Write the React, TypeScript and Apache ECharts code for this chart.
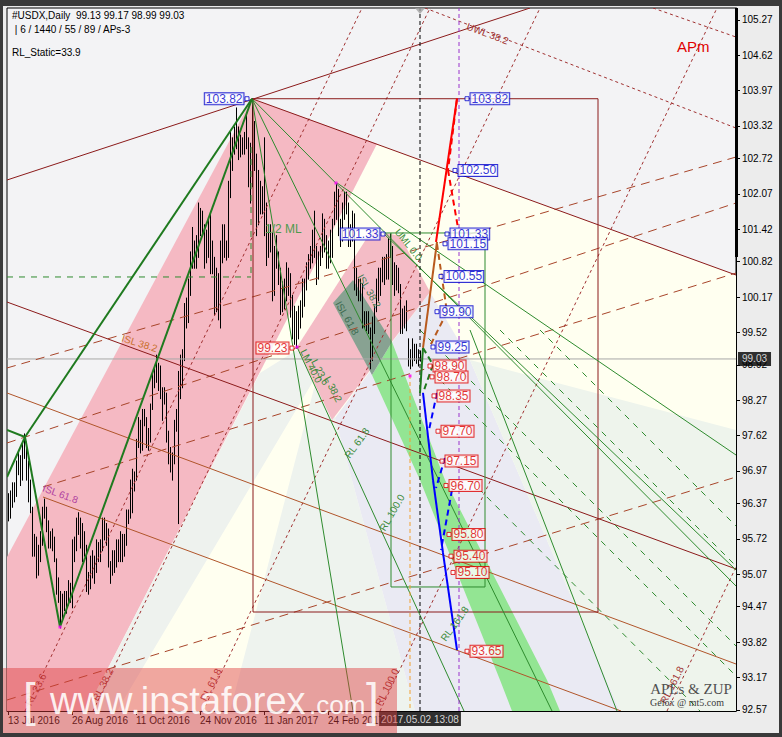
import React, { useEffect, useRef } from 'react';
import * as echarts from 'echarts';

const FONT = '"Liberation Sans", Arial, sans-serif';
const SERIF = '"Liberation Serif", "DejaVu Serif", serif';

// ---- axes ----
const X_TICKS = [0, 32, 64, 96, 128, 160];
const X_TICK_LABELS = ['13 Jul 2016', '26 Aug 2016', '11 Oct 2016', '24 Nov 2016', '11 Jan 2017', '24 Feb 2017'];
const Y_TICKS = [105.27, 104.62, 103.97, 103.32, 102.72, 102.07, 101.42, 100.82, 100.17, 99.52, 98.92, 98.27, 97.62, 96.97, 96.37, 95.72, 95.07, 94.47, 93.82, 93.17, 92.57];
const X_MIN = -0.5, X_MAX = 364, Y_MIN = 92.55, Y_MAX = 105.49;
const LAST_PRICE = 99.03;
const LAST_BAR = 206;
const CURSOR_TIME = '2017.05.02 13:08';

// ---- daily bars (bar index 0 = 13 Jul 2016), low / high ----
const LOWS = [
  96.05, 96.10, 96.30, 96.40, 96.50, 96.90, 96.70, 96.80, 97.20, 96.80,
  96.40, 96.20, 95.40, 95.40, 95.00, 95.05, 95.30, 95.60, 96.10, 95.85,
  95.55, 95.55, 95.50, 95.30, 94.70, 94.55, 94.08, 94.25, 94.40, 94.35,
  94.50, 94.55, 94.45, 95.30, 95.50, 95.80, 95.55, 95.30, 95.40, 94.75,
  94.70, 94.80, 95.00, 94.90, 95.10, 95.30, 95.30, 95.50, 95.70, 95.60,
  95.20, 94.90, 95.05, 95.10, 95.20, 95.30, 95.30, 95.30, 95.40, 95.60,
  96.00, 96.10, 96.20, 96.60, 96.80, 97.40, 97.30, 97.35, 97.80, 97.40,
  97.35, 97.50, 98.10, 98.50, 98.60, 98.45, 98.30, 97.90, 98.20, 97.50,
  97.10, 96.95, 96.80, 97.10, 97.70, 96.00, 98.30, 98.50, 99.00, 99.60,
  99.70, 100.20, 100.70, 100.70, 100.70, 100.90, 101.30, 101.30, 100.70, 100.80,
  100.90, 100.60, 100.60, 99.85, 99.90, 99.75, 99.60, 100.80, 100.90, 100.85,
  100.90, 102.00, 102.50, 102.80, 102.90, 102.70, 102.75, 102.80, 102.80, 102.90,
  102.20, 101.90, 102.20, 102.50, 101.30, 101.50, 101.70, 101.70, 101.30, 100.75,
  100.90, 101.00, 100.10, 100.20, 100.70, 100.40, 99.85, 99.90, 99.95, 100.10,
  100.20, 99.80, 99.40, 99.30, 99.23, 99.40, 99.60, 99.80, 100.00, 100.30,
  100.50, 100.70, 100.80, 100.90, 100.40, 100.50, 100.75, 100.90, 101.00, 100.70,
  100.70, 100.80, 100.90, 101.50, 101.60, 101.30, 101.10, 101.20, 101.60, 101.70,
  101.10, 101.10, 101.20, 100.30, 100.20, 100.10, 100.10, 99.60, 99.60, 99.55,
  99.50, 98.85, 99.00, 99.50, 99.90, 100.10, 100.20, 100.45, 100.40, 100.50,
  100.50, 100.90, 100.40, 100.20, 100.30, 100.25, 99.50, 99.50, 99.60, 99.55,
  98.90, 98.85, 98.90, 99.00, 98.95, 98.90, 98.99,
];
const HIGHS = [
  96.55, 96.60, 96.75, 96.75, 97.15, 97.30, 97.25, 97.50, 97.65, 97.50,
  97.15, 96.80, 96.30, 95.80, 95.75, 95.60, 95.85, 96.30, 96.45, 96.30,
  96.05, 95.85, 95.90, 95.75, 95.35, 95.00, 94.75, 94.70, 94.75, 94.75,
  94.95, 94.90, 95.70, 95.75, 96.10, 96.20, 96.10, 96.00, 95.85, 95.60,
  95.10, 95.40, 95.50, 95.40, 95.70, 95.65, 95.70, 96.10, 96.10, 96.00,
  95.90, 95.30, 95.50, 95.50, 95.70, 95.70, 95.85, 95.80, 95.80, 96.25,
  96.25, 96.80, 97.00, 96.95, 97.55, 97.95, 97.90, 98.10, 98.10, 97.95,
  97.75, 98.20, 98.75, 98.85, 99.10, 98.95, 98.90, 98.50, 98.50, 98.40,
  97.70, 97.40, 97.30, 97.90, 98.10, 98.80, 99.10, 99.20, 100.05, 100.15,
  100.50, 101.00, 101.45, 101.20, 101.30, 101.90, 101.80, 101.75, 101.50, 101.40,
  101.60, 101.70, 101.20, 100.90, 100.70, 100.60, 101.20, 101.50, 101.50, 101.20,
  102.30, 103.20, 103.10, 103.30, 103.65, 103.30, 103.15, 103.10, 103.20, 103.55,
  103.10, 103.00, 103.82, 103.40, 102.80, 102.50, 102.30, 102.20, 103.10, 101.90,
  101.50, 101.50, 101.35, 101.10, 101.30, 101.00, 100.70, 100.45, 100.50, 100.80,
  100.70, 100.60, 100.20, 100.00, 99.90, 100.00, 100.10, 100.50, 100.50, 100.80,
  100.95, 101.10, 101.40, 101.75, 101.10, 101.00, 101.10, 101.70, 101.60, 101.30,
  101.20, 101.40, 101.60, 102.10, 102.26, 102.15, 101.60, 101.90, 102.10, 102.10,
  101.90, 101.50, 101.75, 101.70, 100.70, 100.50, 100.50, 100.40, 99.90, 99.90,
  99.90, 99.60, 99.80, 100.00, 100.50, 100.70, 100.70, 100.90, 100.90, 100.95,
  101.25, 101.33, 101.10, 100.80, 100.75, 100.70, 100.40, 99.95, 100.00, 100.10,
  99.40, 99.20, 99.40, 99.30, 99.30, 99.20, 99.17,
];

// ---- shaded zones (bar index, price) ----
const ZONE_CREAM = [[39, 92.55], [184.5, 102.99], [364, 100.575], [364, 92.55]];
const ZONE_PINK_BAND = [[-0.5, 95.385], [122, 103.82], [184.5, 102.99], [39, 92.55], [-0.5, 92.55]];
const ZONE_STRIP = [[39, 92.55], [126, 98.77], [144.5, 99.195], [155, 98.77], [54.5, 92.55]];
const ZONE_LOW_GREEN = [[155, 98.77], [163.5, 97.943], [203.5, 92.55], [111, 92.55]];
const ZONE_LAVENDER = [[163.5, 97.943], [211, 100.262], [231, 99.011], [306, 92.55], [203.5, 92.55]];
const ZONE_RIGHT_GREEN = [[231, 99.011], [364, 97.723], [364, 92.55], [306, 92.55]];
const ZONE_PINK_2 = [[144.5, 99.25], [182, 101.404], [196, 101.293], [211, 100.262], [162, 97.906]];
const ZONE_GREEN_BAND = [[182, 98.735], [206, 96.802], [246, 93.121], [252, 92.55], [276, 92.55], [269.5, 93.121], [218.5, 96.802], [192, 99.342]];
const ZONE_ISL = [[162.5, 100.06], [172.5, 100.483], [192, 99.342], [182, 98.735]];

// ---- lines [b1, p1, b2, p2] ----
const RED_LINES = [[122, 103.82, 364, 100.575], [-0.5, 102.324, 261, 105.49], [-0.5, 100.078, 364, 95.164]];
const BROWN_LINES = [[-0.5, 98.404, 364, 93.415], [17.5, 96.489, 306.5, 92.55]];
const RED_DASH_LINES = [[-0.5, 98.864, 364, 102.747], [-0.5, 97.483, 364, 101.901], [17.5, 96.673, 364, 100.612], [-0.5, 92.753, 364, 96.857]];
const RED_DOT_LINES = [
  [208.5, 105.49, 364, 103.281], [322.5, 105.49, 364, 104.956],
  [8.5, 92.55, 177, 105.49], [42.5, 92.55, 211, 105.49], [97.5, 92.55, 266, 105.49],
  [186, 92.55, 354.5, 105.49], [329.5, 92.55, 364, 95.2],
];
const RED_RECT = [[122.5, 103.82, 295, 103.82], [295, 103.82, 295, 94.372], [295, 94.372, 122.5, 94.372], [122.5, 94.372, 122.5, 103.82]];
const GREEN_RECT = [[187.5, 101.349, 238.5, 101.349], [238.5, 101.349, 238.5, 94.833], [238.5, 94.833, 191.5, 94.833], [191.5, 94.833, 191.5, 101.349]];
const GREEN_LINES = [
  [122, 103.82, 172.5, 92.55], [122, 103.82, 272, 92.55], [122, 103.82, 364, 94.851],
  [187.5, 101.349, 364, 95.146], [144.5, 99.25, 228, 92.55], [164.5, 102.269, 364, 97.262],
  [231, 99.563, 304.5, 92.55],
];
const GREEN_DASH_LINES = [
  [-0.5, 100.539, 121.5, 100.539], [121.5, 102.931, 121.5, 100.539],
  [206, 99.563, 364, 93.747], [216, 98.643, 364, 93.195], [246, 99.563, 364, 95.219],
  [266, 99.563, 364, 95.955], [231, 96.802, 346, 92.55],
];
const ZIGZAG = [[-0.5, 97.723, 8.5, 97.594], [8.5, 97.594, 122, 103.82], [-0.5, 96.857, 8.5, 97.594], [8.5, 97.594, 26, 94.096], [26, 94.096, 122, 103.82]];
const NOW_LINE = [[LAST_BAR, 92.55, LAST_BAR, 105.49]];
const TARGET_LINE = [[225.5, 92.55, 225.5, 105.49]];
const ORANGE_LINE = [[201, 98.735, 201, 92.55]];
const PRICE_LINE = [[-0.5, LAST_PRICE, 364, LAST_PRICE]];

// ---- projections ----
const PROJ_RED = [[214, 101.183, 224.5, 103.82]];
const PROJ_RED_DASH = [[224.5, 103.82, 220, 102.508], [220, 102.508, 225, 101.441]];
const PROJ_BROWN = [[207.5, 99.232, 214.5, 101.183]];
const PROJ_BROWN_DASH = [[214.5, 101.146, 219.5, 99.894], [219.5, 99.894, 211, 99.269]];
const PROJ_GREEN = [[206, 98.404, 207.5, 99.232]];
const PROJ_GREEN_DASH = [[207.5, 99.232, 212.5, 98.925], [212.5, 98.925, 207.5, 98.404]];
const PROJ_BLUE = [[207.5, 98.404, 212.5, 96.802], [212.5, 96.802, 217.5, 95.459], [217.5, 95.459, 224.5, 93.673]];
const PROJ_BLUE_DASH = [[214.5, 98.404, 210.5, 97.723], [218.5, 97.207, 214, 96.655], [222, 96.618, 216.5, 95.514]];

// ---- level labels [bar, price] ----
const BLUE_RIGHT = [[229.5, 103.82], [223.5, 102.50], [219.5, 101.33], [218.5, 101.15], [216.5, 100.55], [214.5, 99.90], [212.5, 99.25]];
const RED_RIGHT = [[211, 98.90], [212, 98.70], [213, 98.35], [215, 97.70], [217, 97.15], [219, 96.70], [220.5, 95.80], [221.5, 95.40], [222.5, 95.10], [229.5, 93.65]];
const BLUE_LEFT = [[119.5, 103.82], [187.5, 101.33]];
const RED_LEFT = [[142, 99.23]];
const SWINGS = [[26, 94.096], [144.5, 99.25], [164, 102.269], [201, 98.717]];

// ---- annotations ----
const ANN_TEXT = ['1/2 ML', 'UML 0.0', 'ISL 61.8', 'ISL 38.2', 'LM 40.0', 'L 23.6', 'L 38.2', 'RL 61.8', 'RL 100.0', 'RL 161.8',
  'ISL 61.8', 'ISL 38.2', 'RL 23.6', 'RL 38.2', 'RL 61.8', 'RL 100.0', 'RL 161.8', 'UWL 38.2', 'APm'];
const ANN_AT = [[128.5, 101.42], [194.5, 101.404], [165, 100.078], [176, 100.575], [147.5, 99.195], [153, 99.011], [159.5, 98.698], [169.5, 97.225], [187, 95.882], [217.5, 93.857],
  [17.5, 96.66], [57, 99.417], [10, 92.66], [43.5, 92.75], [97.5, 92.75], [185, 92.66], [327.5, 92.7], [229.5, 105.16], [334.5, 104.79]];
const ANN_STYLE = [
  { c: '#4f9a4f', s: 12, r: 0 }, { c: '#3a8a3a', s: 10, r: -0.9 }, { c: '#3d6a50', s: 10, r: -1.05 }, { c: '#3d7a50', s: 10, r: -1.05 },
  { c: '#3a8a3a', s: 10, r: -1.1 }, { c: '#3a8a3a', s: 10, r: -1.1 }, { c: '#3a8a3a', s: 10, r: -1.1 },
  { c: '#3a8a3a', s: 10, r: 0.95 }, { c: '#3a8a3a', s: 10, r: 1.05 }, { c: '#3a8a3a', s: 10, r: 0.95 },
  { c: '#b040a0', s: 10, r: -0.35 }, { c: '#c8702c', s: 10, r: -0.3 },
  { c: '#a03030', s: 10, r: 1.1 }, { c: '#a03030', s: 10, r: 1.1 }, { c: '#a03030', s: 10, r: 1.1 }, { c: '#a03030', s: 10, r: 1.1 }, { c: '#a03030', s: 10, r: 1.1 },
  { c: '#a03030', s: 10, r: -0.36 }, { c: '#e00000', s: 15, r: 0 },
];

type Sty = { color: string; width: number; dash?: number[] };

function segSeries(segs: number[][], st: Sty, z: number, clip = true) {
  return {
    type: 'custom', coordinateSystem: 'cartesian2d', clip, silent: true, z,
    encode: { x: [0, 2], y: [1, 3] },
    data: segs,
    renderItem: (_p: any, api: any) => {
      const a = api.coord([api.value(0), api.value(1)]);
      const b = api.coord([api.value(2), api.value(3)]);
      return {
        type: 'line',
        shape: { x1: a[0], y1: a[1], x2: b[0], y2: b[1] },
        style: { stroke: st.color, lineWidth: st.width, lineDash: st.dash || null, fill: null },
      };
    },
  };
}

function zoneSeries(zones: { pts: number[][]; fill: string }[]) {
  return {
    type: 'custom', coordinateSystem: 'cartesian2d', clip: true, silent: true, z: 1,
    data: zones.map((zn) => zn.pts[0]),
    renderItem: (p: any, api: any) => {
      const zn = zones[p.dataIndex];
      return { type: 'polygon', shape: { points: zn.pts.map((pt) => api.coord(pt)) }, style: { fill: zn.fill } };
    },
  };
}

function levelSeries(pts: number[][], color: string, side: 'left' | 'right') {
  return {
    type: 'scatter', silent: true, z: 8, symbol: 'rect', symbolSize: 4,
    itemStyle: { color: '#fff', borderColor: color, borderWidth: 1 },
    data: pts,
    label: {
      show: true, position: side, distance: 1,
      formatter: (p: any) => p.value[1].toFixed(2),
      color, fontSize: 12, fontFamily: FONT, backgroundColor: '#fff',
      borderColor: color, borderWidth: 1, padding: [0, 1], lineHeight: 11,
    },
  };
}

function buildOption() {
  const zones = [
    { pts: ZONE_CREAM, fill: '#fffff0' },
    { pts: ZONE_LOW_GREEN, fill: '#eef3ee' },
    { pts: ZONE_LAVENDER, fill: '#eaeaf3' },
    { pts: ZONE_RIGHT_GREEN, fill: '#eef4ec' },
    { pts: ZONE_PINK_BAND, fill: '#f5b9c3' },
    { pts: ZONE_STRIP, fill: '#eef2ee' },
    { pts: ZONE_PINK_2, fill: '#f4bcc6' },
    { pts: ZONE_GREEN_BAND, fill: '#93e593' },
    { pts: ZONE_ISL, fill: '#88a292' },
  ];
  const bars = LOWS.map((lo, i) => [i, lo, HIGHS[i]]);
  const series: any[] = [
    zoneSeries(zones),
    {
      type: 'custom', coordinateSystem: 'cartesian2d', clip: true, silent: true, z: 2,
      encode: { x: 0, y: [1, 2] },
      data: bars,
      renderItem: (_p: any, api: any) => {
        const t = api.coord([api.value(0), api.value(2)]);
        const b = api.coord([api.value(0), api.value(1)]);
        const x = Math.round(t[0]) + 0.5;
        return { type: 'line', shape: { x1: x, y1: t[1] - 0.5, x2: x, y2: b[1] + 0.5 }, style: { stroke: '#000', lineWidth: 1 } };
      },
    },
    segSeries(PRICE_LINE, { color: '#a8a8a8', width: 1 }, 3),
    segSeries(RED_DASH_LINES, { color: '#a8452a', width: 1, dash: [9, 6] }, 3),
    segSeries(RED_DOT_LINES, { color: '#a03030', width: 1, dash: [3, 3] }, 3),
    segSeries(RED_LINES, { color: '#8b1a1a', width: 1 }, 3),
    segSeries(BROWN_LINES, { color: '#b0552a', width: 1 }, 3),
    segSeries(RED_RECT, { color: '#8b1a1a', width: 1 }, 3),
    segSeries(GREEN_RECT, { color: '#2e8b2e', width: 1 }, 3),
    segSeries(GREEN_LINES, { color: '#2e8b2e', width: 1 }, 3),
    segSeries(GREEN_DASH_LINES, { color: '#2e8b2e', width: 1, dash: [6, 6] }, 3),
    segSeries(ZIGZAG, { color: '#1f7a1f', width: 2 }, 3),
    segSeries(NOW_LINE, { color: '#000', width: 1, dash: [4, 3] }, 4),
    segSeries(TARGET_LINE, { color: '#9932cc', width: 1, dash: [4, 3] }, 4),
    segSeries(ORANGE_LINE, { color: '#f0a030', width: 1, dash: [4, 3] }, 4),
    segSeries(PROJ_RED, { color: '#ff0000', width: 2 }, 5),
    segSeries(PROJ_RED_DASH, { color: '#ff0000', width: 2, dash: [6, 4] }, 5),
    segSeries(PROJ_BROWN, { color: '#b85a1e', width: 2 }, 5),
    segSeries(PROJ_BROWN_DASH, { color: '#b85a1e', width: 2, dash: [6, 4] }, 5),
    segSeries(PROJ_GREEN, { color: '#1e7a1e', width: 2 }, 5),
    segSeries(PROJ_GREEN_DASH, { color: '#1e7a1e', width: 2, dash: [6, 4] }, 5),
    segSeries(PROJ_BLUE, { color: '#0000ff', width: 2 }, 5),
    segSeries(PROJ_BLUE_DASH, { color: '#0000ff', width: 2, dash: [6, 4] }, 5),
    {
      type: 'custom', coordinateSystem: 'cartesian2d', clip: false, silent: true, z: 6,
      data: ANN_AT,
      renderItem: (p: any, api: any) => {
        const st = ANN_STYLE[p.dataIndex];
        const pt = api.coord(ANN_AT[p.dataIndex]);
        return {
          type: 'text', x: pt[0], y: pt[1], rotation: st.r,
          style: { text: ANN_TEXT[p.dataIndex], fill: st.c, fontSize: st.s, fontFamily: FONT, align: 'left', verticalAlign: 'middle' },
        };
      },
    },
    {
      type: 'scatter', silent: true, z: 7, symbol: 'rect', symbolSize: 3,
      itemStyle: { color: '#ff00ff' }, data: SWINGS,
    },
    levelSeries(BLUE_RIGHT, '#0000cc', 'right'),
    levelSeries(RED_RIGHT, '#dd0000', 'right'),
    levelSeries(BLUE_LEFT, '#0000cc', 'left'),
    levelSeries(RED_LEFT, '#dd0000', 'left'),
    {
      type: 'scatter', silent: true, z: 9, symbolSize: 0,
      data: [[X_MAX, LAST_PRICE]],
      label: {
        show: true, position: 'right', distance: 2, formatter: LAST_PRICE.toFixed(2),
        color: '#fff', backgroundColor: '#000', fontSize: 10, fontFamily: FONT, padding: [2, 4],
      },
    },
    {
      type: 'scatter', silent: true, z: 9, symbolSize: 0,
      data: [[LAST_BAR, Y_MIN]],
      label: {
        show: true, position: 'bottom', distance: 1, formatter: CURSOR_TIME,
        color: '#fff', backgroundColor: '#000', fontSize: 10, fontFamily: FONT, padding: [2, 2],
      },
    },
    {
      type: 'scatter', silent: true, z: 9, symbol: 'triangle', symbolRotate: 180, symbolSize: [10, 6], symbolOffset: [0, 3],
      itemStyle: { color: '#a0a0a0' }, data: [[LAST_BAR, Y_MAX]],
    },
  ];

  return {
    animation: false,
    backgroundColor: '#ececec',
    grid: { left: 7, right: 46, top: 8, bottom: 26, show: true, backgroundColor: '#f3f3f5', borderColor: '#000', borderWidth: 1 },
    xAxis: {
      type: 'value', min: X_MIN, max: X_MAX,
      axisLine: { show: true, onZero: false, lineStyle: { color: '#000' } },
      axisTick: { show: true, customValues: X_TICKS, length: 4, lineStyle: { color: '#000' } },
      axisLabel: {
        customValues: X_TICKS, formatter: (v: number) => X_TICK_LABELS[X_TICKS.indexOf(v)] ?? '',
        align: 'left', margin: 4, color: '#000', fontSize: 10, fontFamily: FONT,
      },
      splitLine: { show: false },
    },
    yAxis: {
      type: 'value', position: 'right', min: Y_MIN, max: Y_MAX,
      axisLine: { show: true, onZero: false, lineStyle: { color: '#000' } },
      axisTick: { show: true, customValues: Y_TICKS, length: 4, lineStyle: { color: '#000' } },
      axisLabel: { customValues: Y_TICKS, formatter: (v: number) => v.toFixed(2), color: '#000', fontSize: 10, fontFamily: FONT, margin: 6 },
      splitLine: { show: false },
    },
    graphic: [
      { type: 'rect', z: 100, shape: { x: 0, y: 0, width: 782, height: 6 }, style: { fill: '#3a3a3a' } },
      { type: 'rect', z: 100, shape: { x: 0, y: 733, width: 782, height: 4 }, style: { fill: '#3a3a3a' } },
      { type: 'rect', z: 100, shape: { x: 0, y: 0, width: 3, height: 737 }, style: { fill: '#3a3a3a' } },
      { type: 'rect', z: 100, shape: { x: 779, y: 0, width: 3, height: 737 }, style: { fill: '#3a3a3a' } },
      { type: 'rect', z: 100, shape: { x: 735, y: 8, width: 3, height: 249 }, style: { fill: '#000' } },
      { type: 'text', z: 100, x: 12, y: 15, style: { text: '#USDX,Daily  99.13 99.17 98.99 99.03', fill: '#000', fontSize: 10, fontFamily: FONT, verticalAlign: 'middle' } },
      { type: 'text', z: 100, x: 12, y: 29, style: { text: ' | 6 / 1440 / 55 / 89 / APs-3', fill: '#000', fontSize: 10, fontFamily: FONT, verticalAlign: 'middle' } },
      { type: 'text', z: 100, x: 12, y: 52, style: { text: 'RL_Static=33.9', fill: '#000', fontSize: 10, fontFamily: FONT, verticalAlign: 'middle' } },
      { type: 'text', z: 100, x: 691, y: 689, style: { text: 'APLs & ZUP', fill: '#505050', fontSize: 15, fontFamily: SERIF, align: 'center', verticalAlign: 'middle' } },
      { type: 'text', z: 100, x: 687, y: 702, style: { text: 'Gelox @ mt5.com', fill: '#404040', fontSize: 10, fontFamily: SERIF, align: 'center', verticalAlign: 'middle' } },
      { type: 'rect', z: 110, shape: { x: 3, y: 668, width: 394, height: 65 }, style: { fill: 'rgba(222,60,60,0.45)' } },
      { type: 'text', z: 111, x: 23, y: 700, style: { text: '[', fill: 'rgba(255,255,255,0.85)', fontSize: 46, fontWeight: 'lighter', fontFamily: FONT, verticalAlign: 'middle' } },
      { type: 'text', z: 111, x: 50, y: 720, style: { text: 'www.instaforex', fill: 'rgba(255,255,255,0.88)', fontSize: 38, fontFamily: FONT, verticalAlign: 'bottom' } },
      { type: 'text', z: 111, x: 309, y: 718, style: { text: '.com', fill: 'rgba(255,255,255,0.88)', fontSize: 26, fontFamily: FONT, verticalAlign: 'bottom' } },
      { type: 'text', z: 111, x: 366, y: 700, style: { text: ']', fill: 'rgba(255,255,255,0.85)', fontSize: 46, fontWeight: 'lighter', fontFamily: FONT, verticalAlign: 'middle' } },
    ],
    series,
  };
}

export default function App() {
  const ref = useRef<HTMLDivElement>(null);
  useEffect(() => {
    if (!ref.current) return;
    const chart = echarts.init(ref.current, undefined, { renderer: 'svg' });
    chart.setOption(buildOption() as any);
    return () => chart.dispose();
  }, []);
  return <div ref={ref} style={{ position: 'absolute', left: 0, top: 0, width: 782, height: 737 }} />;
}
